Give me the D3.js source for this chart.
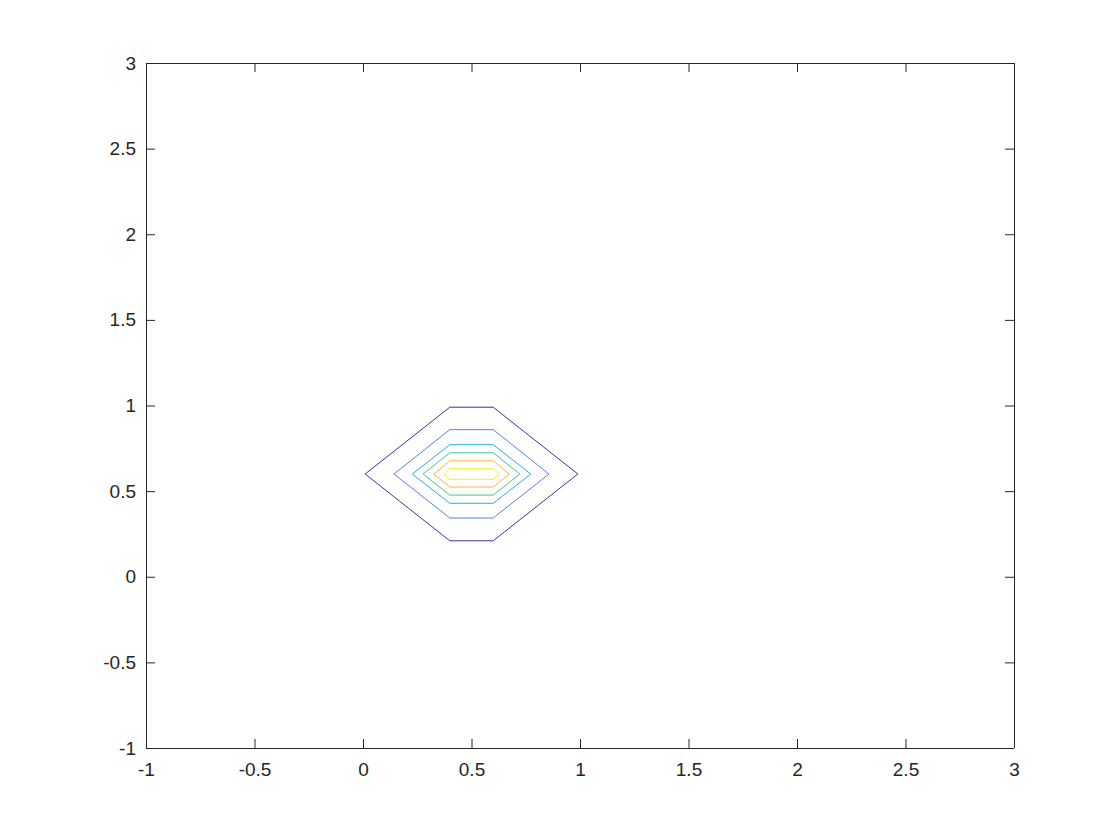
<!DOCTYPE html>
<html>
<head>
<meta charset="utf-8">
<script src="https://d3js.org/d3.v7.min.js"></script>
<style>
  body { margin: 0; background: #fff; }
  .axis text { font-family: "Liberation Sans", Arial, sans-serif; font-size: 19px; fill: #262626; }
  .axis path, .axis line { stroke: #262626; stroke-width: 1px; }
  .contour { fill: none; stroke-width: 1px; }
</style>
</head>
<body>
<script>
// tick values
var xTicks = [-1, -0.5, 0, 0.5, 1, 1.5, 2, 2.5, 3];
var yTicks = [-1, -0.5, 0, 0.5, 1, 1.5, 2, 2.5, 3];

// contour levels, outer to inner (parula colours)
var levelColors = ['#3d2fb0', '#5b7cf5', '#22b0e0', '#3ec882', '#f7b540', '#f2f020'];

// each contour is a closed hexagon: [x, y] points
var contour1 = [[0.01, 0.6], [0.4, 0.99], [0.6, 0.99], [0.99, 0.6], [0.6, 0.21], [0.4, 0.21]];
var contour2 = [[0.143, 0.6], [0.4, 0.859], [0.6, 0.859], [0.857, 0.6], [0.6, 0.343], [0.4, 0.343]];
var contour3 = [[0.227, 0.6], [0.4, 0.771], [0.6, 0.771], [0.773, 0.6], [0.6, 0.429], [0.4, 0.429]];
var contour4 = [[0.277, 0.6], [0.4, 0.724], [0.6, 0.724], [0.723, 0.6], [0.6, 0.477], [0.4, 0.477]];
var contour5 = [[0.326, 0.6], [0.4, 0.677], [0.6, 0.677], [0.674, 0.6], [0.6, 0.524], [0.4, 0.524]];
var contour6 = [[0.374, 0.6], [0.4, 0.631], [0.6, 0.631], [0.626, 0.6], [0.6, 0.569], [0.4, 0.569]];

var contours = [contour1, contour2, contour3, contour4, contour5, contour6];

var W = 1120, H = 840;
var plotLeft = 146, plotRight = 1014, plotTop = 63, plotBottom = 748;

var svg = d3.select('body').append('svg')
  .attr('width', W)
  .attr('height', H);

var x = d3.scaleLinear().domain([-1, 3]).range([plotLeft, plotRight]);
var y = d3.scaleLinear().domain([-1, 3]).range([plotBottom, plotTop]);

var tickLen = 9;
var fmt = function(d) { return String(d); };

// box: bottom / left with labels, top / right without
svg.append('g').attr('class', 'axis')
  .attr('transform', 'translate(0,' + plotBottom + ')')
  .call(d3.axisBottom(x).tickValues(xTicks).tickSize(-tickLen).tickPadding(15).tickFormat(fmt))
  .call(function(g) { g.select('.domain').attr('d', 'M' + plotLeft + ',0.5H' + plotRight); });

svg.append('g').attr('class', 'axis')
  .attr('transform', 'translate(0,' + plotTop + ')')
  .call(d3.axisTop(x).tickValues(xTicks).tickSize(-tickLen).tickFormat(''))
  .call(function(g) { g.select('.domain').attr('d', 'M' + plotLeft + ',0.5H' + plotRight); });

svg.append('g').attr('class', 'axis')
  .attr('transform', 'translate(' + plotLeft + ',0)')
  .call(d3.axisLeft(y).tickValues(yTicks).tickSize(-tickLen).tickPadding(10).tickFormat(fmt))
  .call(function(g) { g.select('.domain').attr('d', 'M0.5,' + plotTop + 'V' + plotBottom); });

svg.append('g').attr('class', 'axis')
  .attr('transform', 'translate(' + plotRight + ',0)')
  .call(d3.axisRight(y).tickValues(yTicks).tickSize(-tickLen).tickFormat(''))
  .call(function(g) { g.select('.domain').attr('d', 'M0.5,' + plotTop + 'V' + plotBottom); });

var line = d3.line()
  .x(function(d) { return x(d[0]); })
  .y(function(d) { return y(d[1]); })
  .curve(d3.curveLinearClosed);

svg.append('g').selectAll('path')
  .data(contours)
  .enter().append('path')
  .attr('class', 'contour')
  .attr('d', line)
  .attr('stroke', function(d, i) { return levelColors[i]; });
</script>
</body>
</html>
